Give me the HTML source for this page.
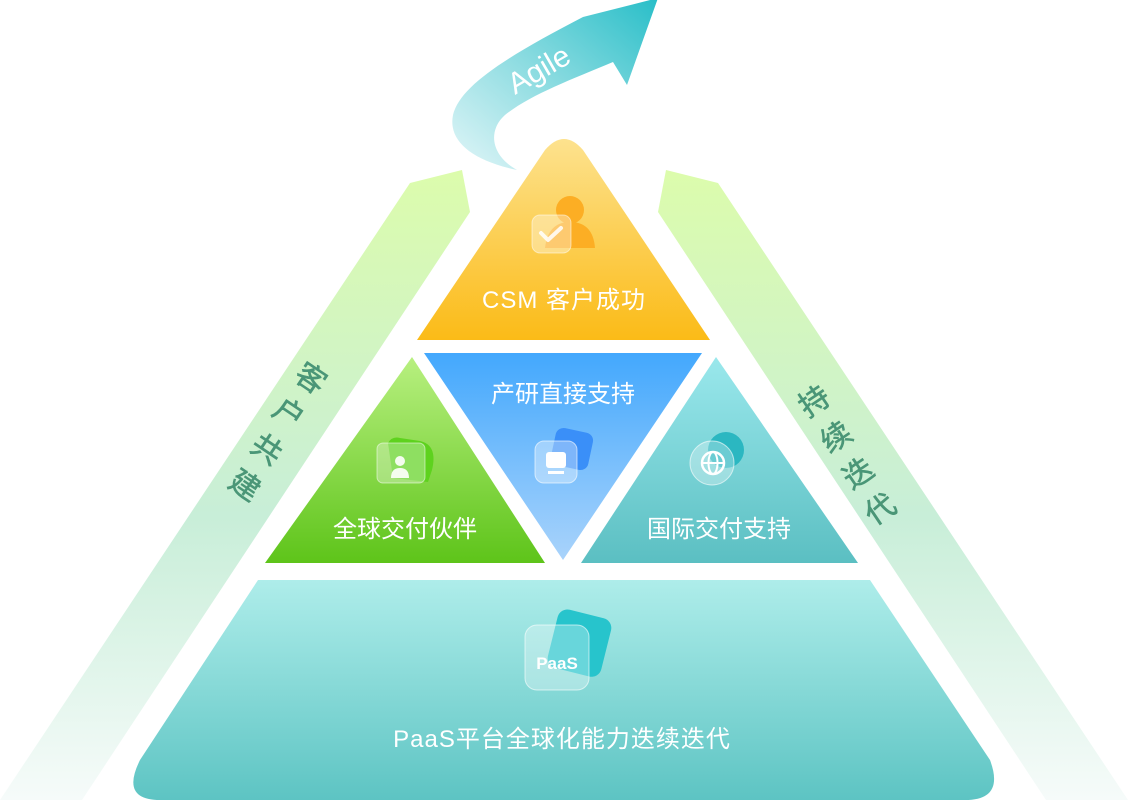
<!DOCTYPE html>
<html><head><meta charset="utf-8"><style>
html,body{margin:0;padding:0;background:#fff;}
svg{display:block;}
text{font-family:"Liberation Sans","Noto Sans CJK SC",sans-serif;}
</style></head><body>
<svg width="1128" height="800" viewBox="0 0 1128 800" xmlns="http://www.w3.org/2000/svg">
<defs>
<linearGradient id="band" x1="0" y1="0" x2="0" y2="1">
<stop offset="0" stop-color="#dcfcac"/><stop offset="0.55" stop-color="#c8eed8"/><stop offset="1" stop-color="#f6fbfa"/>
</linearGradient>
<linearGradient id="top" x1="0" y1="0" x2="0" y2="1">
<stop offset="0" stop-color="#fde28e"/><stop offset="1" stop-color="#fbbb17"/>
</linearGradient>
<linearGradient id="green" x1="0" y1="0" x2="0" y2="1">
<stop offset="0" stop-color="#b8f080"/><stop offset="1" stop-color="#5ec41a"/>
</linearGradient>
<linearGradient id="blue" x1="0" y1="0" x2="0" y2="1">
<stop offset="0" stop-color="#43a8fd"/><stop offset="1" stop-color="#a9d3fb"/>
</linearGradient>
<linearGradient id="teal" x1="0" y1="0" x2="0" y2="1">
<stop offset="0" stop-color="#9ae8ec"/><stop offset="1" stop-color="#5bbfc2"/>
</linearGradient>
<linearGradient id="base" x1="0" y1="0" x2="0" y2="1">
<stop offset="0" stop-color="#aeedea"/><stop offset="1" stop-color="#5dc4c3"/>
</linearGradient>
<linearGradient id="arrow" x1="0" y1="1" x2="1" y2="0">
<stop offset="0" stop-color="#e2f6f8"/><stop offset="0.5" stop-color="#8adbe0"/><stop offset="1" stop-color="#28bec8"/>
</linearGradient>
</defs>

<polygon points="410,183 462,170 470,212 82,800 0,800" fill="url(#band)"/>
<polygon points="718,183 666,170 658,212 1046,800 1128,800" fill="url(#band)"/>

<path d="M517,170 C470,160 448,140 453,115 C460,85 510,55 583,17 L658,-2 L627,85 L613,62 C570,80 530,95 505,115 C488,130 490,155 517,170 Z" fill="url(#arrow)"/>
<text x="0" y="0" transform="translate(515,95) rotate(-30)" font-size="30" fill="#fff">Agile</text>

<path d="M417,340 L545,150 Q564,128 583,150 L710,340 Z" fill="url(#top)"/>
<circle cx="570" cy="210" r="14" fill="#fcae24"/>
<path d="M545,248 Q548,222 570,222 Q593,222 595,248 Z" fill="#fcae24"/>
<rect x="532" y="215" width="39" height="38" rx="8" fill="#fff" fill-opacity="0.35" stroke="#fff" stroke-opacity="0.5"/>
<path d="M541,233 L548,240 L561,228" stroke="#fff" stroke-width="4" fill="none" stroke-linecap="round" stroke-linejoin="round" opacity="0.85"/>
<text x="564" y="308" font-size="24" fill="#fff" text-anchor="middle" letter-spacing="1">CSM 客户成功</text>

<polygon points="412,357 545,563 265,563" fill="url(#green)"/>
<path d="M388,443 Q392,436 400,438 L420,441 Q438,445 432,470 L428,482 L393,478 Z" fill="#5ed21e"/>
<rect x="377" y="443" width="48" height="40" rx="6" fill="#fff" fill-opacity="0.3" stroke="#fff" stroke-opacity="0.5"/>
<circle cx="400" cy="461" r="5" fill="#fff" opacity="0.9"/>
<path d="M391,478 Q391,468 400,468 Q409,468 409,478 Z" fill="#fff" opacity="0.9"/>
<text x="405" y="537" font-size="24" fill="#fff" text-anchor="middle">全球交付伙伴</text>

<polygon points="424,353 702,353 563,560" fill="url(#blue)"/>
<rect x="553" y="430" width="38" height="38" rx="8" transform="rotate(12 572 449)" fill="#3a8ff8"/>
<rect x="535" y="441" width="42" height="42" rx="9" fill="#fff" fill-opacity="0.35" stroke="#fff" stroke-opacity="0.6"/>
<rect x="546" y="452" width="20" height="16" rx="3" fill="#fff"/>
<rect x="548" y="471" width="16" height="3" fill="#fff"/>
<text x="563" y="402" font-size="24" fill="#fff" text-anchor="middle">产研直接支持</text>

<polygon points="716,357 858,563 581,563" fill="url(#teal)"/>
<circle cx="726" cy="450" r="18" fill="#2bb7c1"/>
<circle cx="712" cy="463" r="22" fill="#fff" fill-opacity="0.3" stroke="#fff" stroke-opacity="0.6"/>
<circle cx="713" cy="463" r="11" fill="none" stroke="#fff" stroke-width="2.5"/>
<ellipse cx="713" cy="463" rx="4.5" ry="11" fill="none" stroke="#fff" stroke-width="2"/>
<line x1="702" y1="463" x2="724" y2="463" stroke="#fff" stroke-width="2"/>
<text x="719" y="537" font-size="24" fill="#fff" text-anchor="middle">国际交付支持</text>

<path d="M258,580 L870,580 L990,760 Q1005,800 965,800 L160,800 Q120,800 140,760 Z" fill="url(#base)"/>
<rect x="552" y="613" width="55" height="60" rx="10" transform="rotate(14 579 643)" fill="#27c4cc"/>
<rect x="525" y="625" width="64" height="65" rx="12" fill="#fff" fill-opacity="0.3" stroke="#fff" stroke-opacity="0.6"/>
<text x="557" y="669" font-size="17" font-weight="bold" fill="#fff" text-anchor="middle">PaaS</text>
<text x="562" y="747" font-size="24" fill="#fff" text-anchor="middle" letter-spacing="1">PaaS平台全球化能力迭续迭代</text>

<g font-size="30" fill="#4a9677" text-anchor="middle" stroke="#4a9677" stroke-width="0.6">
<text transform="translate(305,387) rotate(34)">客</text>
<text transform="translate(283,422) rotate(34)">户</text>
<text transform="translate(261,458) rotate(34)">共</text>
<text transform="translate(239,494) rotate(34)">建</text>
<text transform="translate(820,410) rotate(-34)">持</text>
<text transform="translate(842,446) rotate(-34)">续</text>
<text transform="translate(864,482) rotate(-34)">迭</text>
<text transform="translate(886,518) rotate(-34)">代</text>
</g>
</svg>
</body></html>
